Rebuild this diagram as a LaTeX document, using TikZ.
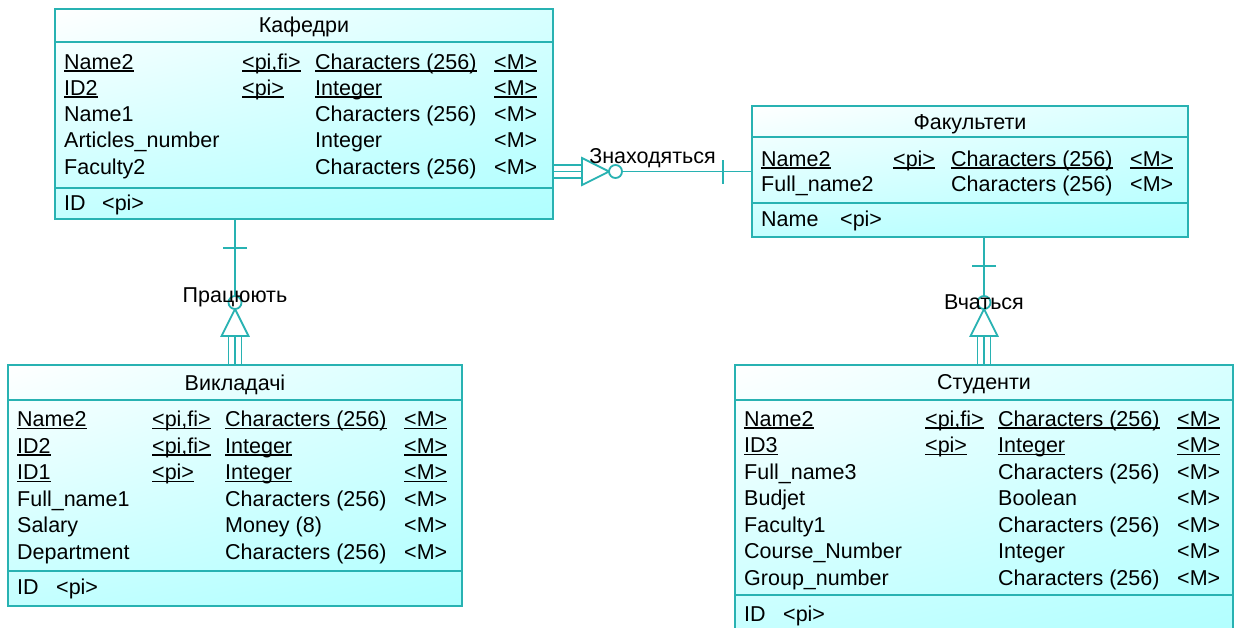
\documentclass[tikz,border=0pt]{standalone}
\usepackage{fontspec}
\setmainfont{Liberation Sans}
\usepackage{tikz}
\usetikzlibrary{positioning,shadings}
\definecolor{erline}{RGB}{40,178,178}
\definecolor{erfill}{RGB}{176,255,255}
\newcommand{\keyline}[1]{\setbox0\hbox{#1}\rlap{\rule[-2.5pt]{\wd0}{1.4pt}}\box0}
\tikzset{
  entity/.style={rectangle,draw=erline,line width=2pt,shade,upper left=white,upper right=erfill!50,lower left=erfill!75,lower right=erfill,inner sep=0pt},
  sepline/.style={draw=erline,line width=2pt},
  cell/.style={anchor=base west,inner sep=0pt},
  title/.style={anchor=base,inner sep=0pt},
  rel/.style={draw=erline,line width=1.8pt},
  rellabel/.style={anchor=base,inner sep=0pt},
  pics/dependent/.style={code={
    \draw[rel] (0,-6.5) -- (28,-6.5) (0,6.5) -- (28,6.5);
    \draw[rel,fill=white] (28,-13.5) -- (55,0) -- (28,13.5) -- cycle;
    \draw[rel,fill=white] (61.5,0) circle (6.5pt);
  }},
  pics/onlyone/.style={code={\draw[rel] (28,-12) -- (28,12);}}
}

\begin{document}
\begin{tikzpicture}[x=1pt,y=-1pt,font=\fontsize{21.5}{26}\selectfont]
  \useasboundingbox (0,0) rectangle (1236,627);
  \fill[white] (0,0) rectangle (1236,627);
  \clip (0,0) rectangle (1236,627);

  % Кафедри
  \node[entity,minimum width=498pt,minimum height=210pt] (kaf) at (304,114) {};
  \draw[sepline] ([yshift=-34pt]kaf.north west) -- ([yshift=-34pt]kaf.north east);
  \draw[sepline] ([yshift=32pt]kaf.south west) -- ([yshift=32pt]kaf.south east);
  \node[title] (kaf-title) at ([yshift=-24pt]kaf.north) {Кафедри};
  \foreach \a/\k/\t/\m [count=\i from 0] in {
    \keyline{Name2}/\keyline{<pi,fi>}/\keyline{Characters (256)}/\keyline{<M>},
    \keyline{ID2}/\keyline{<pi>}/\keyline{Integer}/\keyline{<M>},
    Name1/{}/Characters (256)/<M>,
    Articles\_number/{}/Integer/<M>,
    Faculty2/{}/Characters (256)/<M>}{
    \node[cell] (kaf-a\i) at ([shift={(10,61+26.3*\i)}]kaf.north west) {\a};
    \node[cell] (kaf-k\i) at ([shift={(188,61+26.3*\i)}]kaf.north west) {\k};
    \node[cell] (kaf-t\i) at ([shift={(261,61+26.3*\i)}]kaf.north west) {\t};
    \node[cell] (kaf-m\i) at ([shift={(440,61+26.3*\i)}]kaf.north west) {\m};
  }
  \node[cell] (kaf-id) at ([shift={(10,202)}]kaf.north west) {ID};
  \node[cell] (kaf-pi) at ([shift={(48,202)}]kaf.north west) {<pi>};

  % Факультети
  \node[entity,minimum width=436pt,minimum height=131pt] (fac) at (970,171.5) {};
  \draw[sepline] ([yshift=-32pt]fac.north west) -- ([yshift=-32pt]fac.north east);
  \draw[sepline] ([yshift=35pt]fac.south west) -- ([yshift=35pt]fac.south east);
  \node[title] (fac-title) at ([yshift=-24pt]fac.north) {Факультети};
  \foreach \a/\k/\t/\m [count=\i from 0] in {
    \keyline{Name2}/\keyline{<pi>}/\keyline{Characters (256)}/\keyline{<M>},
    Full\_name2/{}/Characters (256)/<M>}{
    \node[cell] (fac-a\i) at ([shift={(10,61+25.7*\i)}]fac.north west) {\a};
    \node[cell] (fac-k\i) at ([shift={(142,61+25.7*\i)}]fac.north west) {\k};
    \node[cell] (fac-t\i) at ([shift={(200,61+25.7*\i)}]fac.north west) {\t};
    \node[cell] (fac-m\i) at ([shift={(379,61+25.7*\i)}]fac.north west) {\m};
  }
  \node[cell] (fac-id) at ([shift={(10,121)}]fac.north west) {Name};
  \node[cell] (fac-pi) at ([shift={(89,121)}]fac.north west) {<pi>};

  % Викладачі
  \node[entity,minimum width=454pt,minimum height=241pt] (vyk) at (235,485.5) {};
  \draw[sepline] ([yshift=-36pt]vyk.north west) -- ([yshift=-36pt]vyk.north east);
  \draw[sepline] ([yshift=36pt]vyk.south west) -- ([yshift=36pt]vyk.south east);
  \node[title] (vyk-title) at ([yshift=-26pt]vyk.north) {Викладачі};
  \foreach \a/\k/\t/\m [count=\i from 0] in {
    \keyline{Name2}/\keyline{<pi,fi>}/\keyline{Characters (256)}/\keyline{<M>},
    \keyline{ID2}/\keyline{<pi,fi>}/\keyline{Integer}/\keyline{<M>},
    \keyline{ID1}/\keyline{<pi>}/\keyline{Integer}/\keyline{<M>},
    Full\_name1/{}/Characters (256)/<M>,
    Salary/{}/Money (8)/<M>,
    Department/{}/Characters (256)/<M>}{
    \node[cell] (vyk-a\i) at ([shift={(10,62.5+26.5*\i)}]vyk.north west) {\a};
    \node[cell] (vyk-k\i) at ([shift={(145,62.5+26.5*\i)}]vyk.north west) {\k};
    \node[cell] (vyk-t\i) at ([shift={(218,62.5+26.5*\i)}]vyk.north west) {\t};
    \node[cell] (vyk-m\i) at ([shift={(397,62.5+26.5*\i)}]vyk.north west) {\m};
  }
  \node[cell] (vyk-id) at ([shift={(10,230.5)}]vyk.north west) {ID};
  \node[cell] (vyk-pi) at ([shift={(49,230.5)}]vyk.north west) {<pi>};

  % Студенти
  \node[entity,minimum width=498pt,minimum height=280pt] (stud) at (984,505) {};
  \draw[sepline] ([yshift=-36pt]stud.north west) -- ([yshift=-36pt]stud.north east);
  \draw[sepline] ([yshift=-231pt]stud.north west) -- ([yshift=-231pt]stud.north east);
  \node[title] (stud-title) at ([yshift=-25pt]stud.north) {Студенти};
  \foreach \a/\k/\t/\m [count=\i from 0] in {
    \keyline{Name2}/\keyline{<pi,fi>}/\keyline{Characters (256)}/\keyline{<M>},
    \keyline{ID3}/\keyline{<pi>}/\keyline{Integer}/\keyline{<M>},
    Full\_name3/{}/Characters (256)/<M>,
    Budjet/{}/Boolean/<M>,
    Faculty1/{}/Characters (256)/<M>,
    Course\_Number/{}/Integer/<M>,
    Group\_number/{}/Characters (256)/<M>}{
    \node[cell] (stud-a\i) at ([shift={(10,62+26.5*\i)}]stud.north west) {\a};
    \node[cell] (stud-k\i) at ([shift={(191,62+26.5*\i)}]stud.north west) {\k};
    \node[cell] (stud-t\i) at ([shift={(264,62+26.5*\i)}]stud.north west) {\t};
    \node[cell] (stud-m\i) at ([shift={(443,62+26.5*\i)}]stud.north west) {\m};
  }
  \node[cell] (stud-id) at ([shift={(10,257)}]stud.north west) {ID};
  \node[cell] (stud-pi) at ([shift={(49,257)}]stud.north west) {<pi>};

  % relationships
  \draw[rel] (kaf.east |- fac.west) -- (fac.west);
  \pic at (kaf.east |- fac.west) {dependent};
  \pic[rotate=180] at (fac.west) {onlyone};

  \draw[rel] (vyk.north) -- (vyk.north |- kaf.south);
  \pic[rotate=90] at (vyk.north) {dependent};
  \pic[rotate=-90] at (vyk.north |- kaf.south) {onlyone};

  \draw[rel] (stud.north) -- (stud.north |- fac.south);
  \pic[rotate=90] at (stud.north) {dependent};
  \pic[rotate=-90] at (stud.north |- fac.south) {onlyone};

  \path (kaf.east |- fac.west) -- (fac.west)
    node[rellabel,midway,yshift=8.5pt] (r-kaf-fac) {Знаходяться};
  \path (vyk.north) -- (vyk.north |- kaf.south)
    node[rellabel,midway,yshift=-10pt] (r-vyk-kaf) {Працюють};
  \path (stud.north) -- (stud.north |- fac.south)
    node[rellabel,midway,yshift=-8pt] (r-stud-fac) {Вчаться};
\end{tikzpicture}
\end{document}
